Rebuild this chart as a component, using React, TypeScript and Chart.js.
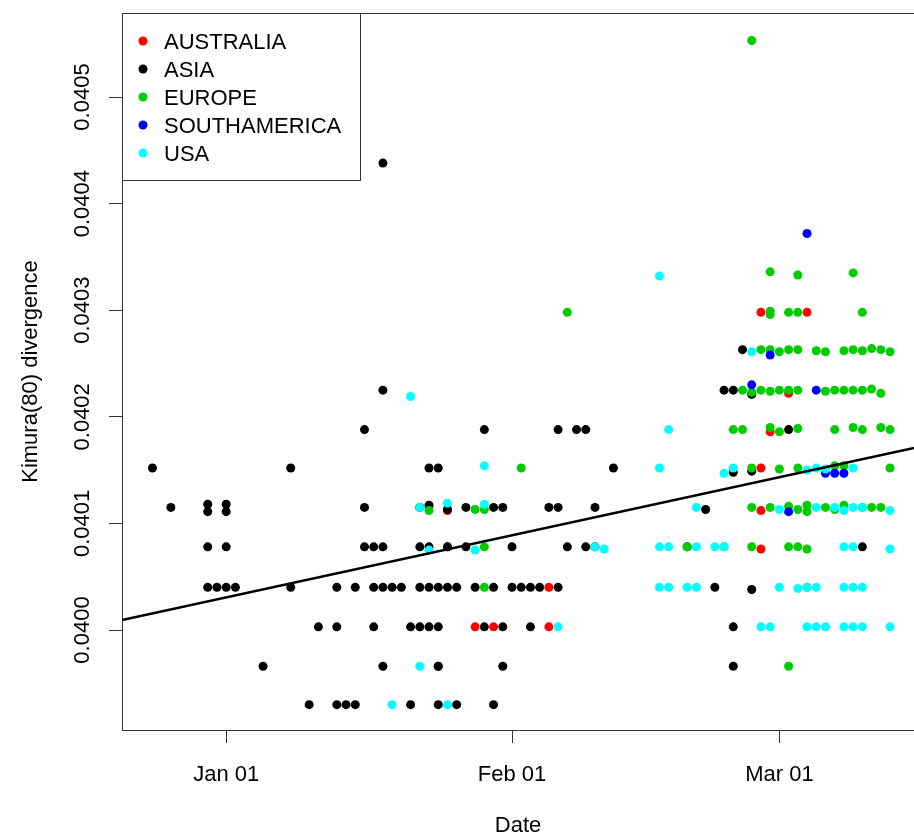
import React, { useEffect, useRef } from "react";
import { Chart, registerables } from "chart.js";

Chart.register(...registerables);

// ---------- data ----------
const regionNames = ["AUSTRALIA", "ASIA", "EUROPE", "SOUTHAMERICA", "USA"];
const regionColors = ["#FF0000", "#000000", "#00CD00", "#0000FF", "#00FFFF"];

const australiaDates = [
  "2020-01-24",
  "2020-01-28", "2020-01-30", "2020-02-05",
  "2020-02-05",
  "2020-01-25", "2020-02-28",
  "2020-01-25", "2020-02-28",
  "2020-02-28",
  "2020-02-29",
  "2020-03-02",
  "2020-02-28", "2020-03-04",
];
const australiaValues = [
  0.039966,
  0.040003, 0.040003, 0.040003,
  0.04004,
  0.040078, 0.040076,
  0.040112, 0.040112,
  0.040152,
  0.040186,
  0.040222,
  0.040298, 0.040298,
];

const asiaDates = [
  "2020-01-10", "2020-01-13", "2020-01-14", "2020-01-15", "2020-01-21", "2020-01-24", "2020-01-26", "2020-01-30",
  "2020-01-05", "2020-01-18", "2020-01-24", "2020-01-31", "2020-02-25",
  "2020-01-11", "2020-01-13", "2020-01-17", "2020-01-21", "2020-01-22", "2020-01-23", "2020-01-24", "2020-01-29", "2020-01-31", "2020-02-03", "2020-02-25",
  "2019-12-30", "2019-12-31", "2020-01-01", "2020-01-02", "2020-01-08", "2020-01-13", "2020-01-15", "2020-01-17", "2020-01-18", "2020-01-19", "2020-01-20", "2020-01-22", "2020-01-23", "2020-01-24", "2020-01-25", "2020-01-26", "2020-01-28", "2020-01-30", "2020-02-01", "2020-02-02", "2020-02-03", "2020-02-04", "2020-02-06", "2020-02-23", "2020-02-27",
  "2019-12-30", "2020-01-01", "2020-01-16", "2020-01-17", "2020-01-18", "2020-01-22", "2020-01-23", "2020-01-25", "2020-01-27", "2020-02-01", "2020-02-07", "2020-02-09", "2020-02-10", "2020-02-20", "2020-03-10",
  "2019-12-26", "2019-12-30", "2019-12-30", "2020-01-01", "2020-01-01", "2020-01-16", "2020-01-22", "2020-01-23", "2020-01-25", "2020-01-27", "2020-01-30", "2020-01-31", "2020-02-05", "2020-02-06", "2020-02-10", "2020-02-22",
  "2019-12-24", "2020-01-08", "2020-01-23", "2020-01-24", "2020-02-12", "2020-02-25", "2020-02-27",
  "2020-01-16", "2020-01-29", "2020-02-06", "2020-02-08", "2020-02-09", "2020-03-02",
  "2020-01-18", "2020-02-24", "2020-02-25", "2020-02-27",
  "2020-02-26",
  "2020-01-18",
];
const asiaValues = [
  0.03993, 0.03993, 0.03993, 0.03993, 0.03993, 0.03993, 0.03993, 0.03993,
  0.039966, 0.039966, 0.039966, 0.039966, 0.039966,
  0.040003, 0.040003, 0.040003, 0.040003, 0.040003, 0.040003, 0.040003, 0.040003, 0.040003, 0.040003, 0.040003,
  0.04004, 0.04004, 0.04004, 0.04004, 0.04004, 0.04004, 0.04004, 0.04004, 0.04004, 0.04004, 0.04004, 0.04004, 0.04004, 0.04004, 0.04004, 0.04004, 0.04004, 0.04004, 0.04004, 0.04004, 0.04004, 0.04004, 0.04004, 0.04004, 0.040038,
  0.040078, 0.040078, 0.040078, 0.040078, 0.040078, 0.040078, 0.040078, 0.040078, 0.040078, 0.040078, 0.040078, 0.040078, 0.040078, 0.040078, 0.040078,
  0.040115, 0.040118, 0.040111, 0.040118, 0.040111, 0.040115, 0.040115, 0.040117, 0.040113, 0.040115, 0.040115, 0.040115, 0.040115, 0.040115, 0.040115, 0.040113,
  0.040152, 0.040152, 0.040152, 0.040152, 0.040152, 0.040148, 0.040149,
  0.040188, 0.040188, 0.040188, 0.040188, 0.040188, 0.040188,
  0.040225, 0.040225, 0.040225, 0.040221,
  0.040263,
  0.040438,
];

const europeDates = [
  "2020-03-02",
  "2020-01-29", "2020-03-04",
  "2020-01-29", "2020-02-20", "2020-02-24", "2020-02-27", "2020-03-02", "2020-03-03", "2020-03-04",
  "2020-01-23", "2020-01-28", "2020-01-29", "2020-02-27", "2020-02-29", "2020-03-02", "2020-03-03", "2020-03-04", "2020-03-04", "2020-03-06", "2020-03-07", "2020-03-08", "2020-03-10", "2020-03-11", "2020-03-12",
  "2020-02-02", "2020-02-27", "2020-03-01", "2020-03-03", "2020-03-07", "2020-03-08", "2020-03-13",
  "2020-02-25", "2020-02-26", "2020-02-29", "2020-03-01", "2020-03-03", "2020-03-07", "2020-03-09", "2020-03-10", "2020-03-12", "2020-03-13",
  "2020-02-26", "2020-02-27", "2020-02-28", "2020-02-29", "2020-03-01", "2020-03-02", "2020-03-03", "2020-03-06", "2020-03-07", "2020-03-08", "2020-03-09", "2020-03-10", "2020-03-11", "2020-03-12",
  "2020-02-28", "2020-02-29", "2020-03-01", "2020-03-02", "2020-03-03", "2020-03-05", "2020-03-06", "2020-03-08", "2020-03-09", "2020-03-10", "2020-03-11", "2020-03-12", "2020-03-13",
  "2020-02-07", "2020-02-29", "2020-02-29", "2020-03-02", "2020-03-03", "2020-03-10",
  "2020-02-29", "2020-03-03", "2020-03-09",
  "2020-02-27",
];
const europeValues = [
  0.039966,
  0.04004, 0.04004,
  0.040078, 0.040078, 0.040078, 0.040078, 0.040078, 0.040078, 0.040076,
  0.040112, 0.040113, 0.040113, 0.040115, 0.040115, 0.040116, 0.040113, 0.040117, 0.040111, 0.040115, 0.040113, 0.040117, 0.040115, 0.040115, 0.040115,
  0.040152, 0.040152, 0.040151, 0.040152, 0.040154, 0.040154, 0.040152,
  0.040188, 0.040188, 0.040190, 0.040186, 0.040189, 0.040188, 0.040190, 0.040188, 0.040190, 0.040188,
  0.040225, 0.040223, 0.040225, 0.040224, 0.040225, 0.040225, 0.040225, 0.040224, 0.040225, 0.040225, 0.040225, 0.040225, 0.040226, 0.040222,
  0.040263, 0.040263, 0.040261, 0.040263, 0.040263, 0.040262, 0.040261, 0.040262, 0.040263, 0.040262, 0.040264, 0.040263, 0.040261,
  0.040298, 0.040299, 0.040296, 0.040298, 0.040298, 0.040298,
  0.040336, 0.040333, 0.040335,
  0.040553,
];

const southAmericaDates = [
  "2020-03-02",
  "2020-03-06", "2020-03-07", "2020-03-08",
  "2020-02-27", "2020-03-05",
  "2020-02-29",
  "2020-03-04",
];
const southAmericaValues = [
  0.040111,
  0.040147, 0.040147, 0.040147,
  0.040230, 0.040225,
  0.040258,
  0.040372,
];

const usaDates = [
  "2020-01-19", "2020-01-25",
  "2020-01-22",
  "2020-02-06", "2020-02-28", "2020-02-29", "2020-03-04", "2020-03-05", "2020-03-06", "2020-03-08", "2020-03-09", "2020-03-10", "2020-03-13",
  "2020-02-17", "2020-02-18", "2020-02-20", "2020-02-21", "2020-03-01", "2020-03-03", "2020-03-04", "2020-03-05", "2020-03-08", "2020-03-09", "2020-03-10",
  "2020-01-23", "2020-01-28", "2020-02-10", "2020-02-11", "2020-02-17", "2020-02-18", "2020-02-21", "2020-02-23", "2020-02-24", "2020-03-08", "2020-03-09", "2020-03-13",
  "2020-01-22", "2020-01-25", "2020-01-29", "2020-02-21", "2020-03-01", "2020-03-05", "2020-03-07", "2020-03-08", "2020-03-09", "2020-03-10", "2020-03-13",
  "2020-01-29", "2020-02-17", "2020-02-24", "2020-02-25", "2020-03-04", "2020-03-05", "2020-03-06", "2020-03-09",
  "2020-02-18",
  "2020-01-21",
  "2020-02-27",
  "2020-02-17",
];
const usaValues = [
  0.03993, 0.03993,
  0.039966,
  0.040003, 0.040003, 0.040003, 0.040003, 0.040003, 0.040003, 0.040003, 0.040003, 0.040003, 0.040003,
  0.04004, 0.04004, 0.04004, 0.04004, 0.04004, 0.040039, 0.04004, 0.04004, 0.04004, 0.04004, 0.04004,
  0.040075, 0.040075, 0.040078, 0.040076, 0.040078, 0.040078, 0.040078, 0.040078, 0.040078, 0.040078, 0.040078, 0.040076,
  0.040115, 0.040119, 0.040118, 0.040115, 0.040113, 0.040115, 0.040115, 0.040112, 0.040115, 0.040115, 0.040112,
  0.040154, 0.040152, 0.040147, 0.040152, 0.040150, 0.040152, 0.040151, 0.040152,
  0.040188,
  0.040219,
  0.040261,
  0.040332,
];

const xTickDates = ["2020-01-01", "2020-02-01", "2020-03-01"];
const xTickLabels = ["Jan 01", "Feb 01", "Mar 01"];
const yTickValues = [0.04, 0.0401, 0.0402, 0.0403, 0.0404, 0.0405];
const yTickLabels = ["0.0400", "0.0401", "0.0402", "0.0403", "0.0404", "0.0405"];

// fitted regression line: value at 2020-01-01 and slope per day
const fitIntercept = 0.0400306;
const fitSlopePerDay = 0.000001878;

// axis ranges (days since 2020-01-01, divergence)
const xRange = [-11.3, 74.6];
const yRange = [0.0399062, 0.0405788];

// ---------- helpers ----------
const FONT = "'Liberation Sans', Arial, Helvetica, sans-serif";
const dayOf = (s: string) => {
  const [y, m, d] = s.split("-").map(Number);
  return (Date.UTC(y, m - 1, d) - Date.UTC(2020, 0, 1)) / 86400000;
};
const toPoints = (dates: string[], values: number[]) =>
  dates.map((d, i) => ({ x: dayOf(d), y: values[i] }));

const seriesDates = [australiaDates, asiaDates, europeDates, southAmericaDates, usaDates];
const seriesValues = [australiaValues, asiaValues, europeValues, southAmericaValues, usaValues];

const rPlugin = {
  id: "rStyle",
  afterDraw(chart: any) {
    const { ctx, chartArea } = chart;
    const yScale = chart.scales.y;
    ctx.save();
    // top frame line
    ctx.strokeStyle = "#333";
    ctx.lineWidth = 1;
    ctx.beginPath();
    ctx.moveTo(chartArea.left, chartArea.top + 0.5);
    ctx.lineTo(chartArea.right, chartArea.top + 0.5);
    ctx.stroke();

    // rotated y tick labels
    ctx.fillStyle = "#000";
    ctx.font = `22px ${FONT}`;
    ctx.textAlign = "center";
    ctx.textBaseline = "alphabetic";
    yScale.ticks.forEach((t: any, i: number) => {
      const py = yScale.getPixelForValue(t.value);
      ctx.save();
      ctx.translate(chartArea.left - 41, py);
      ctx.rotate(-Math.PI / 2);
      ctx.fillText(yTickLabels[i], 0, 8);
      ctx.restore();
    });

    // legend box
    const x0 = chartArea.left;
    const y0 = chartArea.top;
    const w = 238;
    const h = 167;
    ctx.fillStyle = "#fff";
    ctx.fillRect(x0 + 1, y0 + 1, w - 1, h - 1);
    ctx.strokeStyle = "#333";
    ctx.lineWidth = 1;
    ctx.strokeRect(x0 + 0.5, y0 + 0.5, w, h);
    ctx.textAlign = "left";
    chart.data.datasets.forEach((ds: any, i: number) => {
      if (!ds.inLegend) return;
      const cy = y0 + 28 + i * 28;
      ctx.fillStyle = ds.backgroundColor;
      ctx.beginPath();
      ctx.arc(x0 + 21, cy, 4.5, 0, Math.PI * 2);
      ctx.fill();
      ctx.fillStyle = "#000";
      ctx.fillText(ds.label, x0 + 42, cy + 8);
    });
    ctx.restore();
  },
};

export default function App() {
  const canvasRef = useRef<HTMLCanvasElement | null>(null);

  useEffect(() => {
    document.body.style.margin = "0";
    const canvas = canvasRef.current;
    if (!canvas) return;

    const pointSets = regionNames.map((name, i) => ({
      label: name,
      inLegend: true,
      data: toPoints(seriesDates[i], seriesValues[i]),
      backgroundColor: regionColors[i],
      borderColor: regionColors[i],
      pointRadius: 4.5,
      pointHoverRadius: 4.5,
      pointBorderWidth: 0,
      showLine: false,
      order: regionNames.length - i,
    }));

    const fitLine = {
      label: "fit",
      inLegend: false,
      data: xRange.map((x) => ({ x, y: fitIntercept + fitSlopePerDay * x })),
      borderColor: "#000",
      backgroundColor: "#000",
      borderWidth: 2.6,
      pointRadius: 0,
      showLine: true,
      order: 0,
    };

    const chart = new Chart(canvas, {
      type: "scatter",
      data: { datasets: [...pointSets, fitLine] as any },
      options: {
        animation: false,
        responsive: false,
        events: [],
        layout: { autoPadding: false, padding: { top: 13, left: 0, right: 0, bottom: 0 } },
        plugins: { legend: { display: false }, tooltip: { enabled: false } },
        scales: {
          x: {
            type: "linear",
            min: xRange[0],
            max: xRange[1],
            afterBuildTicks: (scale: any) => {
              scale.ticks = xTickDates.map((d) => ({ value: dayOf(d) }));
            },
            afterFit: (scale: any) => {
              scale.height = 108;
            },
            ticks: {
              autoSkip: false,
              maxRotation: 0,
              minRotation: 0,
              padding: 19,
              color: "#000",
              font: { family: FONT, size: 22 },
              callback: (_v: any, i: number) => xTickLabels[i],
            },
            grid: {
              display: true,
              drawOnChartArea: false,
              drawTicks: true,
              tickLength: 13,
              tickColor: "#333",
              color: "#333",
            },
            border: { display: true, color: "#333", width: 1 },
            title: {
              display: true,
              text: "Date",
              color: "#000",
              font: { family: FONT, size: 22, lineHeight: 1 },
              padding: { top: 0, bottom: 1 },
            },
          },
          y: {
            type: "linear",
            min: yRange[0],
            max: yRange[1],
            afterBuildTicks: (scale: any) => {
              scale.ticks = yTickValues.map((v) => ({ value: v }));
            },
            afterFit: (scale: any) => {
              scale.width = 122;
            },
            ticks: { display: false },
            grid: {
              display: true,
              drawOnChartArea: false,
              drawTicks: true,
              tickLength: 13,
              tickColor: "#333",
              color: "#333",
            },
            border: { display: true, color: "#333", width: 1 },
            title: {
              display: true,
              text: "Kimura(80) divergence",
              color: "#000",
              font: { family: FONT, size: 22, lineHeight: 1 },
              padding: { top: 20, bottom: 0 },
            },
          },
        },
      } as any,
      plugins: [rPlugin],
    });

    return () => chart.destroy();
  }, []);

  return (
    <div style={{ width: 914, height: 838, overflow: "hidden", background: "#fff" }}>
      <canvas ref={canvasRef} width={914} height={838} style={{ display: "block" }} />
    </div>
  );
}
